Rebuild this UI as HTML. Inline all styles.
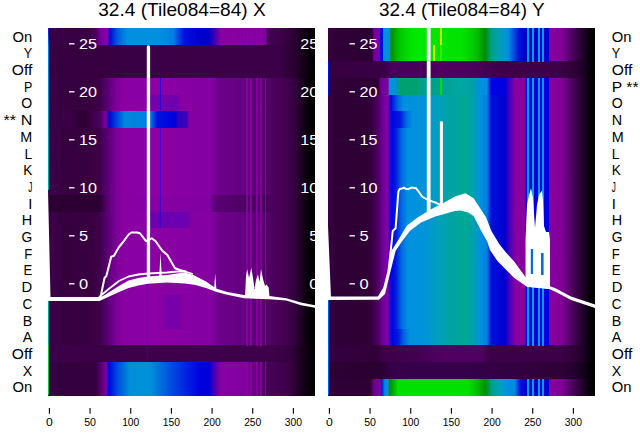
<!DOCTYPE html>
<html><head><meta charset="utf-8"><style>
html,body{margin:0;padding:0;background:#fff;}
body{width:640px;height:440px;overflow:hidden;position:relative;}
svg{position:absolute;left:0;top:0;}
</style></head><body>
<svg width="640" height="440" viewBox="0 0 640 440" shape-rendering="crispEdges">
<defs><linearGradient id="g0" gradientUnits="userSpaceOnUse" x1="48" y1="0" x2="315" y2="0"><stop offset="0.0000" stop-color="#3a0046"/><stop offset="0.1573" stop-color="#3a0046"/><stop offset="0.1798" stop-color="#4a0060"/><stop offset="0.1985" stop-color="#7a00a0"/><stop offset="0.2247" stop-color="#8800a8"/><stop offset="0.2285" stop-color="#0000d8"/><stop offset="0.2622" stop-color="#0060de"/><stop offset="0.2959" stop-color="#0090de"/><stop offset="0.4195" stop-color="#0090e0"/><stop offset="0.4682" stop-color="#0080e0"/><stop offset="0.5094" stop-color="#0010e0"/><stop offset="0.5693" stop-color="#0000d0"/><stop offset="0.6030" stop-color="#0000c8"/><stop offset="0.6292" stop-color="#5000b0"/><stop offset="0.6479" stop-color="#8a00a0"/><stop offset="0.8127" stop-color="#8000a0"/><stop offset="0.8240" stop-color="#440054"/><stop offset="0.8764" stop-color="#3c0048"/><stop offset="0.9139" stop-color="#300038"/><stop offset="0.9438" stop-color="#1c0022"/><stop offset="0.9738" stop-color="#0a000c"/><stop offset="1.0000" stop-color="#000000"/></linearGradient><linearGradient id="g1" gradientUnits="userSpaceOnUse" x1="48" y1="0" x2="315" y2="0"><stop offset="0.0000" stop-color="#3a0046"/><stop offset="0.0449" stop-color="#36003f"/><stop offset="0.1948" stop-color="#36003f"/><stop offset="0.3446" stop-color="#3a0046"/><stop offset="0.8315" stop-color="#3c0048"/><stop offset="0.8764" stop-color="#380044"/><stop offset="0.9139" stop-color="#2c0034"/><stop offset="0.9438" stop-color="#1c0022"/><stop offset="0.9738" stop-color="#0c000e"/><stop offset="1.0000" stop-color="#000000"/></linearGradient><linearGradient id="g2" gradientUnits="userSpaceOnUse" x1="48" y1="0" x2="315" y2="0"><stop offset="0.0000" stop-color="#3c0048"/><stop offset="0.0375" stop-color="#3a0046"/><stop offset="0.0524" stop-color="#36003f"/><stop offset="0.1648" stop-color="#38003f"/><stop offset="0.1948" stop-color="#40004c"/><stop offset="0.2172" stop-color="#54006c"/><stop offset="0.2397" stop-color="#6c0088"/><stop offset="0.2622" stop-color="#80009c"/><stop offset="0.2846" stop-color="#8800a2"/><stop offset="0.3820" stop-color="#8c00a4"/><stop offset="0.6142" stop-color="#8400a0"/><stop offset="0.6404" stop-color="#6c008a"/><stop offset="0.7416" stop-color="#640080"/><stop offset="0.8240" stop-color="#560068"/><stop offset="0.8390" stop-color="#4e0060"/><stop offset="0.8839" stop-color="#460052"/><stop offset="0.9213" stop-color="#360042"/><stop offset="0.9476" stop-color="#1e0024"/><stop offset="0.9700" stop-color="#0a000c"/><stop offset="0.9925" stop-color="#000000"/></linearGradient><linearGradient id="g3" gradientUnits="userSpaceOnUse" x1="48" y1="0" x2="315" y2="0"><stop offset="0.0000" stop-color="#3c0048"/><stop offset="0.0375" stop-color="#3a0046"/><stop offset="0.0524" stop-color="#36003f"/><stop offset="0.1648" stop-color="#38003f"/><stop offset="0.1948" stop-color="#40004c"/><stop offset="0.2172" stop-color="#54006c"/><stop offset="0.2397" stop-color="#6c0088"/><stop offset="0.2622" stop-color="#80009c"/><stop offset="0.2846" stop-color="#8800a2"/><stop offset="0.3820" stop-color="#8c00a4"/><stop offset="0.2996" stop-color="#8800a8"/><stop offset="0.3221" stop-color="#7400ac"/><stop offset="0.4831" stop-color="#7000ac"/><stop offset="0.4981" stop-color="#8800a0"/><stop offset="0.6142" stop-color="#8400a0"/><stop offset="0.6404" stop-color="#6c008a"/><stop offset="0.7416" stop-color="#640080"/><stop offset="0.8240" stop-color="#560068"/><stop offset="0.8390" stop-color="#4e0060"/><stop offset="0.8839" stop-color="#460052"/><stop offset="0.9213" stop-color="#360042"/><stop offset="0.9476" stop-color="#1e0024"/><stop offset="0.9700" stop-color="#0a000c"/><stop offset="0.9925" stop-color="#000000"/></linearGradient><linearGradient id="g4" gradientUnits="userSpaceOnUse" x1="48" y1="0" x2="315" y2="0"><stop offset="0.0000" stop-color="#3a0046"/><stop offset="0.0899" stop-color="#3a0046"/><stop offset="0.1049" stop-color="#2e0036"/><stop offset="0.1423" stop-color="#2e0036"/><stop offset="0.1573" stop-color="#3a0046"/><stop offset="0.1948" stop-color="#4a0060"/><stop offset="0.2172" stop-color="#8000a0"/><stop offset="0.2285" stop-color="#0000d0"/><stop offset="0.2547" stop-color="#0040e0"/><stop offset="0.2884" stop-color="#0088dd"/><stop offset="0.3820" stop-color="#0080e0"/><stop offset="0.4082" stop-color="#0010e0"/><stop offset="0.4757" stop-color="#0000e0"/><stop offset="0.4869" stop-color="#3000c0"/><stop offset="0.5206" stop-color="#4000b8"/><stop offset="0.5281" stop-color="#8400a0"/><stop offset="0.6142" stop-color="#8400a0"/><stop offset="0.6404" stop-color="#6c008a"/><stop offset="0.7416" stop-color="#640080"/><stop offset="0.8240" stop-color="#560068"/><stop offset="0.8390" stop-color="#4e0060"/><stop offset="0.8839" stop-color="#460052"/><stop offset="0.9213" stop-color="#360042"/><stop offset="0.9476" stop-color="#1e0024"/><stop offset="0.9700" stop-color="#0a000c"/><stop offset="0.9925" stop-color="#000000"/></linearGradient><linearGradient id="g5" gradientUnits="userSpaceOnUse" x1="48" y1="0" x2="315" y2="0"><stop offset="0.0000" stop-color="#2c0032"/><stop offset="0.1948" stop-color="#2c0032"/><stop offset="0.2172" stop-color="#50006a"/><stop offset="0.2397" stop-color="#6c0088"/><stop offset="0.2622" stop-color="#80009c"/><stop offset="0.2846" stop-color="#8800a2"/><stop offset="0.3820" stop-color="#8800a4"/><stop offset="0.6067" stop-color="#8000a0"/><stop offset="0.6292" stop-color="#5a0074"/><stop offset="0.7416" stop-color="#4e0064"/><stop offset="0.8240" stop-color="#4a005a"/><stop offset="0.8390" stop-color="#4e0060"/><stop offset="0.8839" stop-color="#460052"/><stop offset="0.9213" stop-color="#360042"/><stop offset="0.9476" stop-color="#1e0024"/><stop offset="0.9700" stop-color="#0a000c"/><stop offset="0.9925" stop-color="#000000"/></linearGradient><linearGradient id="g6" gradientUnits="userSpaceOnUse" x1="48" y1="0" x2="315" y2="0"><stop offset="0.0000" stop-color="#3c0048"/><stop offset="0.0375" stop-color="#3a0046"/><stop offset="0.0524" stop-color="#36003f"/><stop offset="0.1648" stop-color="#38003f"/><stop offset="0.1948" stop-color="#40004c"/><stop offset="0.2172" stop-color="#54006c"/><stop offset="0.2397" stop-color="#6c0088"/><stop offset="0.2622" stop-color="#80009c"/><stop offset="0.2846" stop-color="#8800a2"/><stop offset="0.3820" stop-color="#8c00a4"/><stop offset="0.3745" stop-color="#8800a4"/><stop offset="0.3858" stop-color="#6c00b0"/><stop offset="0.5243" stop-color="#6c00b0"/><stop offset="0.5393" stop-color="#8400a0"/><stop offset="0.6142" stop-color="#8400a0"/><stop offset="0.6404" stop-color="#6c008a"/><stop offset="0.7416" stop-color="#640080"/><stop offset="0.8240" stop-color="#560068"/><stop offset="0.8390" stop-color="#4e0060"/><stop offset="0.8839" stop-color="#460052"/><stop offset="0.9213" stop-color="#360042"/><stop offset="0.9476" stop-color="#1e0024"/><stop offset="0.9700" stop-color="#0a000c"/><stop offset="0.9925" stop-color="#000000"/></linearGradient><linearGradient id="g7" gradientUnits="userSpaceOnUse" x1="48" y1="0" x2="315" y2="0"><stop offset="0.0000" stop-color="#3c0048"/><stop offset="0.0375" stop-color="#3a0046"/><stop offset="0.0524" stop-color="#36003f"/><stop offset="0.1648" stop-color="#38003f"/><stop offset="0.1948" stop-color="#40004c"/><stop offset="0.2172" stop-color="#54006c"/><stop offset="0.2397" stop-color="#6c0088"/><stop offset="0.2622" stop-color="#80009c"/><stop offset="0.2846" stop-color="#8800a2"/><stop offset="0.3820" stop-color="#8c00a4"/><stop offset="0.4270" stop-color="#8800a4"/><stop offset="0.4419" stop-color="#7800a8"/><stop offset="0.4944" stop-color="#7800a8"/><stop offset="0.5056" stop-color="#8400a0"/><stop offset="0.6142" stop-color="#8400a0"/><stop offset="0.6404" stop-color="#6c008a"/><stop offset="0.7416" stop-color="#640080"/><stop offset="0.8240" stop-color="#560068"/><stop offset="0.8390" stop-color="#4e0060"/><stop offset="0.8839" stop-color="#460052"/><stop offset="0.9213" stop-color="#360042"/><stop offset="0.9476" stop-color="#1e0024"/><stop offset="0.9700" stop-color="#0a000c"/><stop offset="0.9925" stop-color="#000000"/></linearGradient><linearGradient id="g8" gradientUnits="userSpaceOnUse" x1="48" y1="0" x2="315" y2="0"><stop offset="0.0000" stop-color="#3c0048"/><stop offset="0.1948" stop-color="#3a0046"/><stop offset="0.3446" stop-color="#3e004a"/><stop offset="0.8315" stop-color="#3e004a"/><stop offset="0.8989" stop-color="#380044"/><stop offset="0.9438" stop-color="#1c0022"/><stop offset="0.9738" stop-color="#0c000e"/><stop offset="1.0000" stop-color="#000000"/></linearGradient><linearGradient id="g9" gradientUnits="userSpaceOnUse" x1="48" y1="0" x2="315" y2="0"><stop offset="0.0000" stop-color="#3a0046"/><stop offset="0.0375" stop-color="#34003e"/><stop offset="0.1760" stop-color="#34003e"/><stop offset="0.1948" stop-color="#500068"/><stop offset="0.2172" stop-color="#8000a0"/><stop offset="0.2266" stop-color="#0000e0"/><stop offset="0.2622" stop-color="#0050e0"/><stop offset="0.3071" stop-color="#0090d8"/><stop offset="0.3820" stop-color="#0090d8"/><stop offset="0.4757" stop-color="#0040e0"/><stop offset="0.5693" stop-color="#0000e0"/><stop offset="0.6030" stop-color="#0000d8"/><stop offset="0.6255" stop-color="#5000b0"/><stop offset="0.6479" stop-color="#8a00a0"/><stop offset="0.7378" stop-color="#8000a0"/><stop offset="0.8240" stop-color="#480058"/><stop offset="0.8989" stop-color="#3e004a"/><stop offset="0.9438" stop-color="#1c0022"/><stop offset="0.9738" stop-color="#0a000c"/><stop offset="1.0000" stop-color="#000000"/></linearGradient><linearGradient id="g10" gradientUnits="userSpaceOnUse" x1="328" y1="0" x2="595" y2="0"><stop offset="0.0000" stop-color="#36003e"/><stop offset="0.0300" stop-color="#300038"/><stop offset="0.1648" stop-color="#2c0032"/><stop offset="0.1723" stop-color="#7000a0"/><stop offset="0.1948" stop-color="#8000a0"/><stop offset="0.1966" stop-color="#0000e0"/><stop offset="0.2049" stop-color="#0010e0"/><stop offset="0.2079" stop-color="#0090e0"/><stop offset="0.2303" stop-color="#0090e0"/><stop offset="0.2360" stop-color="#008800"/><stop offset="0.2622" stop-color="#00c000"/><stop offset="0.3146" stop-color="#00e800"/><stop offset="0.5019" stop-color="#00e400"/><stop offset="0.5543" stop-color="#00c400"/><stop offset="0.5880" stop-color="#008c00"/><stop offset="0.6105" stop-color="#00a080"/><stop offset="0.6367" stop-color="#00a0b0"/><stop offset="0.6742" stop-color="#0090e0"/><stop offset="0.7154" stop-color="#0010d8"/><stop offset="0.7416" stop-color="#0000c8"/><stop offset="0.8277" stop-color="#0000d0"/><stop offset="0.8296" stop-color="#8800a0"/><stop offset="0.8764" stop-color="#800098"/><stop offset="0.9251" stop-color="#400050"/><stop offset="0.9625" stop-color="#180020"/><stop offset="0.9888" stop-color="#000000"/><stop offset="1.0000" stop-color="#000000"/></linearGradient><linearGradient id="g11" gradientUnits="userSpaceOnUse" x1="328" y1="0" x2="595" y2="0"><stop offset="0.0000" stop-color="#340040"/><stop offset="0.2135" stop-color="#3a0046"/><stop offset="0.2322" stop-color="#48005a"/><stop offset="0.3820" stop-color="#4a005a"/><stop offset="0.4195" stop-color="#500060"/><stop offset="0.5318" stop-color="#4c005c"/><stop offset="0.6442" stop-color="#3e004a"/><stop offset="0.8689" stop-color="#3c0048"/><stop offset="0.9251" stop-color="#300038"/><stop offset="0.9625" stop-color="#180020"/><stop offset="0.9888" stop-color="#000000"/><stop offset="1.0000" stop-color="#000000"/></linearGradient><linearGradient id="g12" gradientUnits="userSpaceOnUse" x1="328" y1="0" x2="595" y2="0"><stop offset="0.0000" stop-color="#36003e"/><stop offset="0.0300" stop-color="#300038"/><stop offset="0.1873" stop-color="#2e0034"/><stop offset="0.1985" stop-color="#7000a0"/><stop offset="0.2247" stop-color="#8000a0"/><stop offset="0.2303" stop-color="#0090e0"/><stop offset="0.2547" stop-color="#0090d8"/><stop offset="0.2659" stop-color="#00a070"/><stop offset="0.3371" stop-color="#00a070"/><stop offset="0.3521" stop-color="#00a090"/><stop offset="0.4195" stop-color="#00a090"/><stop offset="0.4944" stop-color="#00a8a0"/><stop offset="0.5468" stop-color="#00a0a8"/><stop offset="0.5618" stop-color="#0090e0"/><stop offset="0.5955" stop-color="#0090e0"/><stop offset="0.6105" stop-color="#0000e0"/><stop offset="0.6629" stop-color="#0000e0"/><stop offset="0.6816" stop-color="#5000b8"/><stop offset="0.7004" stop-color="#8800a0"/><stop offset="0.7378" stop-color="#8800a0"/><stop offset="0.7416" stop-color="#0000e0"/><stop offset="0.8277" stop-color="#0000e0"/><stop offset="0.8296" stop-color="#8800a0"/><stop offset="0.8764" stop-color="#800098"/><stop offset="0.9251" stop-color="#400050"/><stop offset="0.9625" stop-color="#180020"/><stop offset="0.9888" stop-color="#000000"/><stop offset="1.0000" stop-color="#000000"/></linearGradient><linearGradient id="g13" gradientUnits="userSpaceOnUse" x1="328" y1="0" x2="595" y2="0"><stop offset="0.0000" stop-color="#3a0046"/><stop offset="0.0225" stop-color="#300038"/><stop offset="0.1423" stop-color="#2e0034"/><stop offset="0.1648" stop-color="#36003f"/><stop offset="0.1873" stop-color="#4e0066"/><stop offset="0.2060" stop-color="#70009c"/><stop offset="0.2247" stop-color="#8800a8"/><stop offset="0.2303" stop-color="#3000c8"/><stop offset="0.2360" stop-color="#0000e0"/><stop offset="0.2397" stop-color="#0018e0"/><stop offset="0.2622" stop-color="#0068e0"/><stop offset="0.2846" stop-color="#0090e0"/><stop offset="0.3633" stop-color="#0094d8"/><stop offset="0.4195" stop-color="#00a0b8"/><stop offset="0.4757" stop-color="#00a49c"/><stop offset="0.5169" stop-color="#00a894"/><stop offset="0.5468" stop-color="#00a0b0"/><stop offset="0.5693" stop-color="#0090e0"/><stop offset="0.5955" stop-color="#0080e0"/><stop offset="0.6105" stop-color="#0010d8"/><stop offset="0.6629" stop-color="#0000d0"/><stop offset="0.6816" stop-color="#5000b8"/><stop offset="0.7041" stop-color="#8800a0"/><stop offset="0.7378" stop-color="#8800a0"/><stop offset="0.7416" stop-color="#0000e0"/><stop offset="0.8277" stop-color="#0000e0"/><stop offset="0.8296" stop-color="#8800a0"/><stop offset="0.8764" stop-color="#800098"/><stop offset="0.9251" stop-color="#400050"/><stop offset="0.9625" stop-color="#180020"/><stop offset="0.9888" stop-color="#000000"/><stop offset="1.0000" stop-color="#000000"/></linearGradient><linearGradient id="g14" gradientUnits="userSpaceOnUse" x1="328" y1="0" x2="595" y2="0"><stop offset="0.0000" stop-color="#3a0046"/><stop offset="0.0225" stop-color="#300038"/><stop offset="0.1423" stop-color="#2e0034"/><stop offset="0.1648" stop-color="#36003f"/><stop offset="0.1873" stop-color="#4e0066"/><stop offset="0.2060" stop-color="#70009c"/><stop offset="0.2247" stop-color="#8800a8"/><stop offset="0.2303" stop-color="#3000c8"/><stop offset="0.2360" stop-color="#0000e0"/><stop offset="0.2697" stop-color="#0018e0"/><stop offset="0.2921" stop-color="#0068e0"/><stop offset="0.3146" stop-color="#0090e0"/><stop offset="0.3633" stop-color="#0094d8"/><stop offset="0.4195" stop-color="#00a0b8"/><stop offset="0.4757" stop-color="#00a49c"/><stop offset="0.5169" stop-color="#00a894"/><stop offset="0.5468" stop-color="#00a0b0"/><stop offset="0.5693" stop-color="#0090e0"/><stop offset="0.5955" stop-color="#0080e0"/><stop offset="0.6105" stop-color="#0010d8"/><stop offset="0.6629" stop-color="#0000d0"/><stop offset="0.6816" stop-color="#5000b8"/><stop offset="0.7041" stop-color="#8800a0"/><stop offset="0.7378" stop-color="#8800a0"/><stop offset="0.7416" stop-color="#0000e0"/><stop offset="0.8277" stop-color="#0000e0"/><stop offset="0.8296" stop-color="#8800a0"/><stop offset="0.8764" stop-color="#800098"/><stop offset="0.9251" stop-color="#400050"/><stop offset="0.9625" stop-color="#180020"/><stop offset="0.9888" stop-color="#000000"/><stop offset="1.0000" stop-color="#000000"/></linearGradient><linearGradient id="g15" gradientUnits="userSpaceOnUse" x1="328" y1="0" x2="595" y2="0"><stop offset="0.0000" stop-color="#3a0046"/><stop offset="0.0225" stop-color="#300038"/><stop offset="0.1423" stop-color="#2e0034"/><stop offset="0.1648" stop-color="#36003f"/><stop offset="0.1873" stop-color="#4e0066"/><stop offset="0.2060" stop-color="#70009c"/><stop offset="0.2247" stop-color="#8800a8"/><stop offset="0.2303" stop-color="#3000c8"/><stop offset="0.2360" stop-color="#0000e0"/><stop offset="0.2528" stop-color="#0018e0"/><stop offset="0.2753" stop-color="#0068e0"/><stop offset="0.2978" stop-color="#0090e0"/><stop offset="0.3633" stop-color="#0094d8"/><stop offset="0.4195" stop-color="#00a0b8"/><stop offset="0.4757" stop-color="#00a49c"/><stop offset="0.5169" stop-color="#00a894"/><stop offset="0.5468" stop-color="#00a0b0"/><stop offset="0.5693" stop-color="#0090e0"/><stop offset="0.5955" stop-color="#0080e0"/><stop offset="0.6105" stop-color="#0010d8"/><stop offset="0.6629" stop-color="#0000d0"/><stop offset="0.6816" stop-color="#5000b8"/><stop offset="0.7041" stop-color="#8800a0"/><stop offset="0.7378" stop-color="#8800a0"/><stop offset="0.7416" stop-color="#0000e0"/><stop offset="0.8277" stop-color="#0000e0"/><stop offset="0.8296" stop-color="#8800a0"/><stop offset="0.8764" stop-color="#800098"/><stop offset="0.9251" stop-color="#400050"/><stop offset="0.9625" stop-color="#180020"/><stop offset="0.9888" stop-color="#000000"/><stop offset="1.0000" stop-color="#000000"/></linearGradient><linearGradient id="g16" gradientUnits="userSpaceOnUse" x1="328" y1="0" x2="595" y2="0"><stop offset="0.0000" stop-color="#3a0046"/><stop offset="0.0225" stop-color="#300038"/><stop offset="0.1423" stop-color="#2e0034"/><stop offset="0.1648" stop-color="#36003f"/><stop offset="0.1873" stop-color="#4e0066"/><stop offset="0.2060" stop-color="#70009c"/><stop offset="0.2247" stop-color="#8800a8"/><stop offset="0.2303" stop-color="#3000c8"/><stop offset="0.2360" stop-color="#0000e0"/><stop offset="0.2622" stop-color="#0018e0"/><stop offset="0.2846" stop-color="#0068e0"/><stop offset="0.3071" stop-color="#0090e0"/><stop offset="0.3633" stop-color="#0094d8"/><stop offset="0.4195" stop-color="#00a0b8"/><stop offset="0.4757" stop-color="#00a49c"/><stop offset="0.5169" stop-color="#00a894"/><stop offset="0.5468" stop-color="#00a0b0"/><stop offset="0.5693" stop-color="#0090e0"/><stop offset="0.5955" stop-color="#0080e0"/><stop offset="0.6105" stop-color="#0010d8"/><stop offset="0.6629" stop-color="#0000d0"/><stop offset="0.6816" stop-color="#5000b8"/><stop offset="0.7041" stop-color="#8800a0"/><stop offset="0.7378" stop-color="#8800a0"/><stop offset="0.7416" stop-color="#0000e0"/><stop offset="0.8277" stop-color="#0000e0"/><stop offset="0.8296" stop-color="#8800a0"/><stop offset="0.8764" stop-color="#800098"/><stop offset="0.9251" stop-color="#400050"/><stop offset="0.9625" stop-color="#180020"/><stop offset="0.9888" stop-color="#000000"/><stop offset="1.0000" stop-color="#000000"/></linearGradient><linearGradient id="g17" gradientUnits="userSpaceOnUse" x1="328" y1="0" x2="595" y2="0"><stop offset="0.0000" stop-color="#340040"/><stop offset="0.1873" stop-color="#320038"/><stop offset="0.2022" stop-color="#3c0048"/><stop offset="0.3446" stop-color="#440052"/><stop offset="0.4195" stop-color="#500060"/><stop offset="0.5693" stop-color="#500060"/><stop offset="0.6067" stop-color="#3c0048"/><stop offset="0.8689" stop-color="#3c0048"/><stop offset="0.9251" stop-color="#300038"/><stop offset="0.9625" stop-color="#180020"/><stop offset="0.9888" stop-color="#000000"/><stop offset="1.0000" stop-color="#000000"/></linearGradient><linearGradient id="g18" gradientUnits="userSpaceOnUse" x1="328" y1="0" x2="595" y2="0"><stop offset="0.0000" stop-color="#2e0034"/><stop offset="0.1948" stop-color="#2a0030"/><stop offset="0.2397" stop-color="#36004a"/><stop offset="0.5318" stop-color="#36004a"/><stop offset="0.8689" stop-color="#300038"/><stop offset="0.9251" stop-color="#240030"/><stop offset="0.9625" stop-color="#100018"/><stop offset="0.9888" stop-color="#000000"/><stop offset="1.0000" stop-color="#000000"/></linearGradient><linearGradient id="g19" gradientUnits="userSpaceOnUse" x1="328" y1="0" x2="595" y2="0"><stop offset="0.0000" stop-color="#36003e"/><stop offset="0.0300" stop-color="#300038"/><stop offset="0.1573" stop-color="#2e0034"/><stop offset="0.1723" stop-color="#6a0090"/><stop offset="0.1948" stop-color="#8000a0"/><stop offset="0.2022" stop-color="#0020e0"/><stop offset="0.2135" stop-color="#0090e0"/><stop offset="0.2247" stop-color="#0090e0"/><stop offset="0.2303" stop-color="#008800"/><stop offset="0.2622" stop-color="#00e000"/><stop offset="0.5243" stop-color="#00e000"/><stop offset="0.5581" stop-color="#00c000"/><stop offset="0.5880" stop-color="#009000"/><stop offset="0.6142" stop-color="#00a090"/><stop offset="0.6442" stop-color="#00a0c0"/><stop offset="0.6704" stop-color="#0090e0"/><stop offset="0.7004" stop-color="#0088e0"/><stop offset="0.7191" stop-color="#0010e0"/><stop offset="0.7453" stop-color="#0000d0"/><stop offset="0.8277" stop-color="#0000d0"/><stop offset="0.8296" stop-color="#8800a0"/><stop offset="0.8764" stop-color="#800098"/><stop offset="0.9251" stop-color="#400050"/><stop offset="0.9625" stop-color="#180020"/><stop offset="0.9888" stop-color="#000000"/><stop offset="1.0000" stop-color="#000000"/></linearGradient><linearGradient id="edgeL" x1="0" y1="0" x2="0" y2="1"><stop offset="0" stop-color="#2010d0"/><stop offset="0.12" stop-color="#0080e0"/><stop offset="1" stop-color="#00b0a0"/></linearGradient></defs>
<g><rect x="48" y="28.00" width="267" height="17.00" fill="url(#g0)"/><rect x="48" y="44.70" width="267" height="17.00" fill="url(#g1)"/><rect x="48" y="61.39" width="267" height="17.00" fill="url(#g1)"/><rect x="48" y="78.09" width="267" height="17.00" fill="url(#g2)"/><rect x="48" y="94.78" width="267" height="17.00" fill="url(#g3)"/><rect x="48" y="111.48" width="267" height="17.00" fill="url(#g4)"/><rect x="48" y="128.17" width="267" height="17.00" fill="url(#g2)"/><rect x="48" y="144.87" width="267" height="17.00" fill="url(#g2)"/><rect x="48" y="161.56" width="267" height="17.00" fill="url(#g2)"/><rect x="48" y="178.26" width="267" height="17.00" fill="url(#g2)"/><rect x="48" y="194.95" width="267" height="17.00" fill="url(#g5)"/><rect x="48" y="211.65" width="267" height="17.00" fill="url(#g6)"/><rect x="48" y="228.35" width="267" height="17.00" fill="url(#g2)"/><rect x="48" y="245.04" width="267" height="17.00" fill="url(#g2)"/><rect x="48" y="261.74" width="267" height="17.00" fill="url(#g2)"/><rect x="48" y="278.43" width="267" height="17.00" fill="url(#g2)"/><rect x="48" y="295.13" width="267" height="17.00" fill="url(#g7)"/><rect x="48" y="311.82" width="267" height="17.00" fill="url(#g7)"/><rect x="48" y="328.52" width="267" height="17.00" fill="url(#g2)"/><rect x="48" y="345.21" width="267" height="17.00" fill="url(#g8)"/><rect x="48" y="361.91" width="267" height="17.00" fill="url(#g9)"/><rect x="48" y="378.60" width="267" height="17.00" fill="url(#g9)"/><rect x="328" y="28.00" width="267" height="17.00" fill="url(#g10)"/><rect x="328" y="44.70" width="267" height="17.00" fill="url(#g10)"/><rect x="328" y="61.39" width="267" height="17.00" fill="url(#g11)"/><rect x="328" y="78.09" width="267" height="17.00" fill="url(#g12)"/><rect x="328" y="94.78" width="267" height="17.00" fill="url(#g13)"/><rect x="328" y="111.48" width="267" height="17.00" fill="url(#g14)"/><rect x="328" y="128.17" width="267" height="17.00" fill="url(#g15)"/><rect x="328" y="144.87" width="267" height="17.00" fill="url(#g15)"/><rect x="328" y="161.56" width="267" height="17.00" fill="url(#g15)"/><rect x="328" y="178.26" width="267" height="17.00" fill="url(#g15)"/><rect x="328" y="194.95" width="267" height="17.00" fill="url(#g15)"/><rect x="328" y="211.65" width="267" height="17.00" fill="url(#g15)"/><rect x="328" y="228.35" width="267" height="17.00" fill="url(#g15)"/><rect x="328" y="245.04" width="267" height="17.00" fill="url(#g15)"/><rect x="328" y="261.74" width="267" height="17.00" fill="url(#g15)"/><rect x="328" y="278.43" width="267" height="17.00" fill="url(#g15)"/><rect x="328" y="295.13" width="267" height="17.00" fill="url(#g15)"/><rect x="328" y="311.82" width="267" height="17.00" fill="url(#g15)"/><rect x="328" y="328.52" width="267" height="17.00" fill="url(#g16)"/><rect x="328" y="345.21" width="267" height="17.00" fill="url(#g17)"/><rect x="328" y="361.91" width="267" height="17.00" fill="url(#g18)"/><rect x="328" y="378.60" width="267" height="17.00" fill="url(#g19)"/></g>
<g><rect x="246.3" y="28.00" width="1.7" height="17.00" fill="#8c00a6" opacity="0.85"/><rect x="250.3" y="28.00" width="1.7" height="17.00" fill="#8c00a6" opacity="0.85"/><rect x="255.9" y="28.00" width="1.7" height="17.00" fill="#8c00a6" opacity="0.85"/><rect x="260" y="28.00" width="1.7" height="17.00" fill="#8c00a6" opacity="0.85"/><rect x="264.6" y="28.00" width="1.7" height="17.00" fill="#8c00a6" opacity="0.85"/><rect x="246.3" y="78.09" width="1.7" height="17.00" fill="#8c00a6" opacity="0.85"/><rect x="250.3" y="78.09" width="1.7" height="17.00" fill="#8c00a6" opacity="0.85"/><rect x="255.9" y="78.09" width="1.7" height="17.00" fill="#8c00a6" opacity="0.85"/><rect x="260" y="78.09" width="1.7" height="17.00" fill="#8c00a6" opacity="0.85"/><rect x="264.6" y="78.09" width="1.7" height="17.00" fill="#8c00a6" opacity="0.85"/><rect x="246.3" y="94.78" width="1.7" height="17.00" fill="#8c00a6" opacity="0.85"/><rect x="250.3" y="94.78" width="1.7" height="17.00" fill="#8c00a6" opacity="0.85"/><rect x="255.9" y="94.78" width="1.7" height="17.00" fill="#8c00a6" opacity="0.85"/><rect x="260" y="94.78" width="1.7" height="17.00" fill="#8c00a6" opacity="0.85"/><rect x="264.6" y="94.78" width="1.7" height="17.00" fill="#8c00a6" opacity="0.85"/><rect x="246.3" y="111.48" width="1.7" height="17.00" fill="#8c00a6" opacity="0.85"/><rect x="250.3" y="111.48" width="1.7" height="17.00" fill="#8c00a6" opacity="0.85"/><rect x="255.9" y="111.48" width="1.7" height="17.00" fill="#8c00a6" opacity="0.85"/><rect x="260" y="111.48" width="1.7" height="17.00" fill="#8c00a6" opacity="0.85"/><rect x="264.6" y="111.48" width="1.7" height="17.00" fill="#8c00a6" opacity="0.85"/><rect x="246.3" y="128.17" width="1.7" height="17.00" fill="#8c00a6" opacity="0.85"/><rect x="250.3" y="128.17" width="1.7" height="17.00" fill="#8c00a6" opacity="0.85"/><rect x="255.9" y="128.17" width="1.7" height="17.00" fill="#8c00a6" opacity="0.85"/><rect x="260" y="128.17" width="1.7" height="17.00" fill="#8c00a6" opacity="0.85"/><rect x="264.6" y="128.17" width="1.7" height="17.00" fill="#8c00a6" opacity="0.85"/><rect x="246.3" y="144.87" width="1.7" height="17.00" fill="#8c00a6" opacity="0.85"/><rect x="250.3" y="144.87" width="1.7" height="17.00" fill="#8c00a6" opacity="0.85"/><rect x="255.9" y="144.87" width="1.7" height="17.00" fill="#8c00a6" opacity="0.85"/><rect x="260" y="144.87" width="1.7" height="17.00" fill="#8c00a6" opacity="0.85"/><rect x="264.6" y="144.87" width="1.7" height="17.00" fill="#8c00a6" opacity="0.85"/><rect x="246.3" y="161.56" width="1.7" height="17.00" fill="#8c00a6" opacity="0.85"/><rect x="250.3" y="161.56" width="1.7" height="17.00" fill="#8c00a6" opacity="0.85"/><rect x="255.9" y="161.56" width="1.7" height="17.00" fill="#8c00a6" opacity="0.85"/><rect x="260" y="161.56" width="1.7" height="17.00" fill="#8c00a6" opacity="0.85"/><rect x="264.6" y="161.56" width="1.7" height="17.00" fill="#8c00a6" opacity="0.85"/><rect x="246.3" y="178.26" width="1.7" height="17.00" fill="#8c00a6" opacity="0.85"/><rect x="250.3" y="178.26" width="1.7" height="17.00" fill="#8c00a6" opacity="0.85"/><rect x="255.9" y="178.26" width="1.7" height="17.00" fill="#8c00a6" opacity="0.85"/><rect x="260" y="178.26" width="1.7" height="17.00" fill="#8c00a6" opacity="0.85"/><rect x="264.6" y="178.26" width="1.7" height="17.00" fill="#8c00a6" opacity="0.85"/><rect x="246.3" y="194.95" width="1.7" height="17.00" fill="#8c00a6" opacity="0.85"/><rect x="250.3" y="194.95" width="1.7" height="17.00" fill="#8c00a6" opacity="0.85"/><rect x="255.9" y="194.95" width="1.7" height="17.00" fill="#8c00a6" opacity="0.85"/><rect x="260" y="194.95" width="1.7" height="17.00" fill="#8c00a6" opacity="0.85"/><rect x="264.6" y="194.95" width="1.7" height="17.00" fill="#8c00a6" opacity="0.85"/><rect x="246.3" y="211.65" width="1.7" height="17.00" fill="#8c00a6" opacity="0.85"/><rect x="250.3" y="211.65" width="1.7" height="17.00" fill="#8c00a6" opacity="0.85"/><rect x="255.9" y="211.65" width="1.7" height="17.00" fill="#8c00a6" opacity="0.85"/><rect x="260" y="211.65" width="1.7" height="17.00" fill="#8c00a6" opacity="0.85"/><rect x="264.6" y="211.65" width="1.7" height="17.00" fill="#8c00a6" opacity="0.85"/><rect x="246.3" y="228.35" width="1.7" height="17.00" fill="#8c00a6" opacity="0.85"/><rect x="250.3" y="228.35" width="1.7" height="17.00" fill="#8c00a6" opacity="0.85"/><rect x="255.9" y="228.35" width="1.7" height="17.00" fill="#8c00a6" opacity="0.85"/><rect x="260" y="228.35" width="1.7" height="17.00" fill="#8c00a6" opacity="0.85"/><rect x="264.6" y="228.35" width="1.7" height="17.00" fill="#8c00a6" opacity="0.85"/><rect x="246.3" y="245.04" width="1.7" height="17.00" fill="#8c00a6" opacity="0.85"/><rect x="250.3" y="245.04" width="1.7" height="17.00" fill="#8c00a6" opacity="0.85"/><rect x="255.9" y="245.04" width="1.7" height="17.00" fill="#8c00a6" opacity="0.85"/><rect x="260" y="245.04" width="1.7" height="17.00" fill="#8c00a6" opacity="0.85"/><rect x="264.6" y="245.04" width="1.7" height="17.00" fill="#8c00a6" opacity="0.85"/><rect x="246.3" y="261.74" width="1.7" height="17.00" fill="#8c00a6" opacity="0.85"/><rect x="250.3" y="261.74" width="1.7" height="17.00" fill="#8c00a6" opacity="0.85"/><rect x="255.9" y="261.74" width="1.7" height="17.00" fill="#8c00a6" opacity="0.85"/><rect x="260" y="261.74" width="1.7" height="17.00" fill="#8c00a6" opacity="0.85"/><rect x="264.6" y="261.74" width="1.7" height="17.00" fill="#8c00a6" opacity="0.85"/><rect x="246.3" y="278.43" width="1.7" height="17.00" fill="#8c00a6" opacity="0.85"/><rect x="250.3" y="278.43" width="1.7" height="17.00" fill="#8c00a6" opacity="0.85"/><rect x="255.9" y="278.43" width="1.7" height="17.00" fill="#8c00a6" opacity="0.85"/><rect x="260" y="278.43" width="1.7" height="17.00" fill="#8c00a6" opacity="0.85"/><rect x="264.6" y="278.43" width="1.7" height="17.00" fill="#8c00a6" opacity="0.85"/><rect x="246.3" y="295.13" width="1.7" height="17.00" fill="#8c00a6" opacity="0.85"/><rect x="250.3" y="295.13" width="1.7" height="17.00" fill="#8c00a6" opacity="0.85"/><rect x="255.9" y="295.13" width="1.7" height="17.00" fill="#8c00a6" opacity="0.85"/><rect x="260" y="295.13" width="1.7" height="17.00" fill="#8c00a6" opacity="0.85"/><rect x="264.6" y="295.13" width="1.7" height="17.00" fill="#8c00a6" opacity="0.85"/><rect x="246.3" y="311.82" width="1.7" height="17.00" fill="#8c00a6" opacity="0.85"/><rect x="250.3" y="311.82" width="1.7" height="17.00" fill="#8c00a6" opacity="0.85"/><rect x="255.9" y="311.82" width="1.7" height="17.00" fill="#8c00a6" opacity="0.85"/><rect x="260" y="311.82" width="1.7" height="17.00" fill="#8c00a6" opacity="0.85"/><rect x="264.6" y="311.82" width="1.7" height="17.00" fill="#8c00a6" opacity="0.85"/><rect x="246.3" y="328.52" width="1.7" height="17.00" fill="#8c00a6" opacity="0.85"/><rect x="250.3" y="328.52" width="1.7" height="17.00" fill="#8c00a6" opacity="0.85"/><rect x="255.9" y="328.52" width="1.7" height="17.00" fill="#8c00a6" opacity="0.85"/><rect x="260" y="328.52" width="1.7" height="17.00" fill="#8c00a6" opacity="0.85"/><rect x="264.6" y="328.52" width="1.7" height="17.00" fill="#8c00a6" opacity="0.85"/><rect x="246.3" y="361.91" width="1.7" height="17.00" fill="#8c00a6" opacity="0.85"/><rect x="250.3" y="361.91" width="1.7" height="17.00" fill="#8c00a6" opacity="0.85"/><rect x="255.9" y="361.91" width="1.7" height="17.00" fill="#8c00a6" opacity="0.85"/><rect x="260" y="361.91" width="1.7" height="17.00" fill="#8c00a6" opacity="0.85"/><rect x="264.6" y="361.91" width="1.7" height="17.00" fill="#8c00a6" opacity="0.85"/><rect x="246.3" y="378.60" width="1.7" height="17.00" fill="#8c00a6" opacity="0.85"/><rect x="250.3" y="378.60" width="1.7" height="17.00" fill="#8c00a6" opacity="0.85"/><rect x="255.9" y="378.60" width="1.7" height="17.00" fill="#8c00a6" opacity="0.85"/><rect x="260" y="378.60" width="1.7" height="17.00" fill="#8c00a6" opacity="0.85"/><rect x="264.6" y="378.60" width="1.7" height="17.00" fill="#8c00a6" opacity="0.85"/><rect x="527" y="28.00" width="1.5" height="17.00" fill="#00a0e0"/><rect x="532" y="28.00" width="1.5" height="17.00" fill="#00a0e0"/><rect x="538" y="28.00" width="1.5" height="17.00" fill="#00a0e0"/><rect x="542" y="28.00" width="1.5" height="17.00" fill="#00a0e0"/><rect x="527" y="44.70" width="1.5" height="17.00" fill="#00a0e0"/><rect x="532" y="44.70" width="1.5" height="17.00" fill="#00a0e0"/><rect x="538" y="44.70" width="1.5" height="17.00" fill="#00a0e0"/><rect x="542" y="44.70" width="1.5" height="17.00" fill="#00a0e0"/><rect x="527" y="78.09" width="1.5" height="17.00" fill="#00a0e0"/><rect x="532" y="78.09" width="1.5" height="17.00" fill="#00a0e0"/><rect x="538" y="78.09" width="1.5" height="17.00" fill="#00a0e0"/><rect x="542" y="78.09" width="1.5" height="17.00" fill="#00a0e0"/><rect x="527" y="94.78" width="1.5" height="17.00" fill="#00a0e0"/><rect x="532" y="94.78" width="1.5" height="17.00" fill="#00a0e0"/><rect x="538" y="94.78" width="1.5" height="17.00" fill="#00a0e0"/><rect x="542" y="94.78" width="1.5" height="17.00" fill="#00a0e0"/><rect x="527" y="111.48" width="1.5" height="17.00" fill="#00a0e0"/><rect x="532" y="111.48" width="1.5" height="17.00" fill="#00a0e0"/><rect x="538" y="111.48" width="1.5" height="17.00" fill="#00a0e0"/><rect x="542" y="111.48" width="1.5" height="17.00" fill="#00a0e0"/><rect x="527" y="128.17" width="1.5" height="17.00" fill="#00a0e0"/><rect x="532" y="128.17" width="1.5" height="17.00" fill="#00a0e0"/><rect x="538" y="128.17" width="1.5" height="17.00" fill="#00a0e0"/><rect x="542" y="128.17" width="1.5" height="17.00" fill="#00a0e0"/><rect x="527" y="144.87" width="1.5" height="17.00" fill="#00a0e0"/><rect x="532" y="144.87" width="1.5" height="17.00" fill="#00a0e0"/><rect x="538" y="144.87" width="1.5" height="17.00" fill="#00a0e0"/><rect x="542" y="144.87" width="1.5" height="17.00" fill="#00a0e0"/><rect x="527" y="161.56" width="1.5" height="17.00" fill="#00a0e0"/><rect x="532" y="161.56" width="1.5" height="17.00" fill="#00a0e0"/><rect x="538" y="161.56" width="1.5" height="17.00" fill="#00a0e0"/><rect x="542" y="161.56" width="1.5" height="17.00" fill="#00a0e0"/><rect x="527" y="178.26" width="1.5" height="17.00" fill="#00a0e0"/><rect x="532" y="178.26" width="1.5" height="17.00" fill="#00a0e0"/><rect x="538" y="178.26" width="1.5" height="17.00" fill="#00a0e0"/><rect x="542" y="178.26" width="1.5" height="17.00" fill="#00a0e0"/><rect x="527" y="194.95" width="1.5" height="17.00" fill="#00a0e0"/><rect x="532" y="194.95" width="1.5" height="17.00" fill="#00a0e0"/><rect x="538" y="194.95" width="1.5" height="17.00" fill="#00a0e0"/><rect x="542" y="194.95" width="1.5" height="17.00" fill="#00a0e0"/><rect x="527" y="211.65" width="1.5" height="17.00" fill="#00a0e0"/><rect x="532" y="211.65" width="1.5" height="17.00" fill="#00a0e0"/><rect x="538" y="211.65" width="1.5" height="17.00" fill="#00a0e0"/><rect x="542" y="211.65" width="1.5" height="17.00" fill="#00a0e0"/><rect x="527" y="228.35" width="1.5" height="17.00" fill="#00a0e0"/><rect x="532" y="228.35" width="1.5" height="17.00" fill="#00a0e0"/><rect x="538" y="228.35" width="1.5" height="17.00" fill="#00a0e0"/><rect x="542" y="228.35" width="1.5" height="17.00" fill="#00a0e0"/><rect x="527" y="245.04" width="1.5" height="17.00" fill="#00a0e0"/><rect x="532" y="245.04" width="1.5" height="17.00" fill="#00a0e0"/><rect x="538" y="245.04" width="1.5" height="17.00" fill="#00a0e0"/><rect x="542" y="245.04" width="1.5" height="17.00" fill="#00a0e0"/><rect x="527" y="261.74" width="1.5" height="17.00" fill="#00a0e0"/><rect x="532" y="261.74" width="1.5" height="17.00" fill="#00a0e0"/><rect x="538" y="261.74" width="1.5" height="17.00" fill="#00a0e0"/><rect x="542" y="261.74" width="1.5" height="17.00" fill="#00a0e0"/><rect x="527" y="278.43" width="1.5" height="17.00" fill="#00a0e0"/><rect x="532" y="278.43" width="1.5" height="17.00" fill="#00a0e0"/><rect x="538" y="278.43" width="1.5" height="17.00" fill="#00a0e0"/><rect x="542" y="278.43" width="1.5" height="17.00" fill="#00a0e0"/><rect x="527" y="295.13" width="1.5" height="17.00" fill="#00a0e0"/><rect x="532" y="295.13" width="1.5" height="17.00" fill="#00a0e0"/><rect x="538" y="295.13" width="1.5" height="17.00" fill="#00a0e0"/><rect x="542" y="295.13" width="1.5" height="17.00" fill="#00a0e0"/><rect x="527" y="311.82" width="1.5" height="17.00" fill="#00a0e0"/><rect x="532" y="311.82" width="1.5" height="17.00" fill="#00a0e0"/><rect x="538" y="311.82" width="1.5" height="17.00" fill="#00a0e0"/><rect x="542" y="311.82" width="1.5" height="17.00" fill="#00a0e0"/><rect x="527" y="328.52" width="1.5" height="17.00" fill="#00a0e0"/><rect x="532" y="328.52" width="1.5" height="17.00" fill="#00a0e0"/><rect x="538" y="328.52" width="1.5" height="17.00" fill="#00a0e0"/><rect x="542" y="328.52" width="1.5" height="17.00" fill="#00a0e0"/><rect x="527" y="378.60" width="1.5" height="17.00" fill="#00a0e0"/><rect x="532" y="378.60" width="1.5" height="17.00" fill="#00a0e0"/><rect x="538" y="378.60" width="1.5" height="17.00" fill="#00a0e0"/><rect x="542" y="378.60" width="1.5" height="17.00" fill="#00a0e0"/><rect x="48" y="28" width="1.1" height="162" fill="url(#edgeL)"/><rect x="48" y="300" width="1.1" height="95" fill="#00a890"/><rect x="48" y="345" width="1.1" height="50" fill="#10c040"/><rect x="328" y="61" width="1.1" height="34" fill="#0010e0"/><rect x="328" y="300" width="1.1" height="95" fill="#0060e0"/><rect x="159.6" y="78.09" width="1.6" height="33.39" fill="#3000d0"/><rect x="159.6" y="128.17" width="1.6" height="100.17" fill="#3000d0" opacity="0.7"/><rect x="146.6" y="283" width="1.2" height="79" fill="#4000b0" opacity="0.6"/><rect x="440.2" y="28" width="1.4" height="16.70" fill="#c8ff00"/><rect x="440.2" y="44.70" width="1.4" height="16.70" fill="#30f000"/><rect x="433.1" y="44.8" width="1.6" height="16.5" fill="#e0f000"/><rect x="440.3" y="78.09" width="1.2" height="16.70" fill="#00e000"/></g>
<g shape-rendering="auto"><polygon points="48.0,297.0 99.0,297.0 103.0,296.0 109.3,292.0 119.0,286.0 128.6,280.5 138.3,278.0 148.0,276.5 167.0,275.0 177.0,273.5 185.0,272.5 193.4,275.0 206.0,281.4 216.6,288.8 227.2,292.0 244.0,295.0 269.4,296.1 286.3,298.2 301.0,302.5 315.0,305.2 315.0,307.7 301.0,305.2 286.3,300.4 269.4,299.3 244.0,298.2 227.2,294.7 216.6,292.0 206.0,288.0 195.5,285.0 185.0,283.5 167.0,282.5 148.0,283.7 138.3,285.5 128.6,288.0 119.0,292.0 109.3,296.5 99.6,301.0 48.0,301.0" fill="#ffffff"/><polygon points="48,190 50.5,298 48,298" fill="#fff"/><polyline points="99.0,297.5 101.6,295.0 109.3,288.5 119.0,281.0 128.6,276.5 138.3,274.5 148.0,273.5 167.0,272.5 177.0,271.5 185.0,271.5 193.0,274.0" fill="none" stroke="#ffffff" stroke-width="1.8" stroke-linejoin="round"/><polyline points="48.0,298.5 100.0,298.0 101.0,295.0 104.5,278.0 106.4,276.0 111.2,256.7 114.0,255.7 119.0,247.0 123.8,241.2 128.6,234.5 131.5,232.5 137.3,232.5 140.2,233.5 146.0,241.2 151.8,238.3 155.6,241.2 162.4,250.9 167.2,254.7 175.0,268.3 180.7,270.2 186.5,271.7" fill="none" stroke="#ffffff" stroke-width="2" stroke-linejoin="round"/><rect x="146.8" y="45.2" width="3.3" height="236" rx="1.6" fill="#ffffff"/><polygon points="159,281 160.5,252.8 162,281" fill="#ffffff"/><polygon points="214,290 215.2,273.6 216.4,290" fill="#ffffff"/><polygon points="245.0,297.0 246.0,276.0 247.2,269.2 249.0,278.0 251.3,267.7 253.0,278.0 254.5,289.0 256.0,280.0 258.0,274.3 259.5,282.0 261.0,269.2 263.0,279.0 265.0,286.0 266.5,284.5 268.7,287.6 269.5,297.0" fill="#ffffff"/><polygon points="328.0,296.5 378.5,296.5 384.2,289.0 388.0,276.0 391.3,251.0 398.4,239.7 407.0,225.5 418.3,217.0 432.5,208.4 443.9,202.7 455.0,196.4 465.5,193.2 473.6,198.2 479.0,206.4 486.0,217.3 491.4,231.0 499.6,244.6 506.0,252.5 514.0,261.3 526.0,277.7 527.3,279.0 549.0,284.0 550.4,286.5 555.0,288.0 571.0,296.5 595.0,304.5 595.0,308.0 571.0,300.0 555.0,291.5 549.0,289.0 527.3,287.0 514.0,277.7 497.6,261.3 490.0,250.0 487.3,241.8 480.5,229.6 473.6,216.0 468.0,212.5 460.0,210.5 455.0,211.0 449.5,212.6 435.3,216.5 421.0,222.6 409.8,231.0 401.2,242.5 395.6,251.0 389.9,273.8 385.0,294.0 379.0,299.8 328.0,300.0" fill="#ffffff"/><polygon points="328,226 331,298 328,298" fill="#fff"/><polyline points="378.5,297.5 384.2,288.0 388.5,271.0 391.3,245.3 392.7,231.0 395.6,228.3 398.4,191.4 399.7,189.0 402.0,188.5 404.0,187.6 406.0,189.0 408.5,189.0 411.5,187.6 416.0,188.2 419.0,192.0 422.0,196.5 427.8,200.0 435.0,202.4 442.6,206.0 450.0,209.0" fill="none" stroke="#ffffff" stroke-width="2" stroke-linejoin="round"/><rect x="426.8" y="28" width="3.8" height="190" fill="#ffffff"/><rect x="439.9" y="121.4" width="3" height="90" fill="#ffffff"/><polygon points="525.5,286.0 525.5,240.0 527.0,205.0 529.0,195.0 531.0,188.0 533.0,198.0 535.0,228.0 537.0,205.0 539.0,195.0 541.8,190.5 543.0,200.0 544.0,226.0 546.0,232.0 549.0,232.0 550.0,240.0 550.0,289.0" fill="#ffffff"/><rect x="530.8" y="249" width="2.2" height="25" fill="#0070e0"/><rect x="541" y="253" width="2.6" height="22" fill="#0070e0"/></g>
<g shape-rendering="auto"><text x="12.56" y="41.6" textLength="19.74" lengthAdjust="spacingAndGlyphs" font-size="14.4" font-family="Liberation Sans, sans-serif" fill="#000">On</text><text x="611.8" y="41.6" textLength="19.74" lengthAdjust="spacingAndGlyphs" font-size="14.4" font-family="Liberation Sans, sans-serif" fill="#000">On</text><text x="23.82" y="58.3" textLength="8.48" lengthAdjust="spacingAndGlyphs" font-size="14.4" font-family="Liberation Sans, sans-serif" fill="#000">Y</text><text x="611.8" y="58.3" textLength="8.48" lengthAdjust="spacingAndGlyphs" font-size="14.4" font-family="Liberation Sans, sans-serif" fill="#000">Y</text><text x="11.80" y="75.0" textLength="20.50" lengthAdjust="spacingAndGlyphs" font-size="14.4" font-family="Liberation Sans, sans-serif" fill="#000">Off</text><text x="611.8" y="75.0" textLength="20.50" lengthAdjust="spacingAndGlyphs" font-size="14.4" font-family="Liberation Sans, sans-serif" fill="#000">Off</text><text x="23.92" y="91.7" textLength="8.38" lengthAdjust="spacingAndGlyphs" font-size="14.4" font-family="Liberation Sans, sans-serif" fill="#000">P</text><text x="611.8" y="91.7" textLength="26.68" lengthAdjust="spacingAndGlyphs" font-size="14.4" font-family="Liberation Sans, sans-serif" fill="#000">P **</text><text x="21.37" y="108.4" textLength="10.93" lengthAdjust="spacingAndGlyphs" font-size="14.4" font-family="Liberation Sans, sans-serif" fill="#000">O</text><text x="611.8" y="108.4" textLength="10.93" lengthAdjust="spacingAndGlyphs" font-size="14.4" font-family="Liberation Sans, sans-serif" fill="#000">O</text><text x="3.60" y="125.1" textLength="28.70" lengthAdjust="spacingAndGlyphs" font-size="14.4" font-family="Liberation Sans, sans-serif" fill="#000">** N</text><text x="611.8" y="125.1" textLength="10.39" lengthAdjust="spacingAndGlyphs" font-size="14.4" font-family="Liberation Sans, sans-serif" fill="#000">N</text><text x="20.32" y="141.8" textLength="11.98" lengthAdjust="spacingAndGlyphs" font-size="14.4" font-family="Liberation Sans, sans-serif" fill="#000">M</text><text x="611.8" y="141.8" textLength="11.98" lengthAdjust="spacingAndGlyphs" font-size="14.4" font-family="Liberation Sans, sans-serif" fill="#000">M</text><text x="24.56" y="158.5" textLength="7.74" lengthAdjust="spacingAndGlyphs" font-size="14.4" font-family="Liberation Sans, sans-serif" fill="#000">L</text><text x="611.8" y="158.5" textLength="7.74" lengthAdjust="spacingAndGlyphs" font-size="14.4" font-family="Liberation Sans, sans-serif" fill="#000">L</text><text x="23.19" y="175.2" textLength="9.11" lengthAdjust="spacingAndGlyphs" font-size="14.4" font-family="Liberation Sans, sans-serif" fill="#000">K</text><text x="611.8" y="175.2" textLength="9.11" lengthAdjust="spacingAndGlyphs" font-size="14.4" font-family="Liberation Sans, sans-serif" fill="#000">K</text><text x="28.20" y="191.9" textLength="4.10" lengthAdjust="spacingAndGlyphs" font-size="14.4" font-family="Liberation Sans, sans-serif" fill="#000">J</text><text x="611.8" y="191.9" textLength="4.10" lengthAdjust="spacingAndGlyphs" font-size="14.4" font-family="Liberation Sans, sans-serif" fill="#000">J</text><text x="28.20" y="208.6" textLength="4.10" lengthAdjust="spacingAndGlyphs" font-size="14.4" font-family="Liberation Sans, sans-serif" fill="#000">I</text><text x="611.8" y="208.6" textLength="4.10" lengthAdjust="spacingAndGlyphs" font-size="14.4" font-family="Liberation Sans, sans-serif" fill="#000">I</text><text x="21.86" y="225.3" textLength="10.44" lengthAdjust="spacingAndGlyphs" font-size="14.4" font-family="Liberation Sans, sans-serif" fill="#000">H</text><text x="611.8" y="225.3" textLength="10.44" lengthAdjust="spacingAndGlyphs" font-size="14.4" font-family="Liberation Sans, sans-serif" fill="#000">H</text><text x="21.54" y="242.0" textLength="10.76" lengthAdjust="spacingAndGlyphs" font-size="14.4" font-family="Liberation Sans, sans-serif" fill="#000">G</text><text x="611.8" y="242.0" textLength="10.76" lengthAdjust="spacingAndGlyphs" font-size="14.4" font-family="Liberation Sans, sans-serif" fill="#000">G</text><text x="24.31" y="258.7" textLength="7.99" lengthAdjust="spacingAndGlyphs" font-size="14.4" font-family="Liberation Sans, sans-serif" fill="#000">F</text><text x="611.8" y="258.7" textLength="7.99" lengthAdjust="spacingAndGlyphs" font-size="14.4" font-family="Liberation Sans, sans-serif" fill="#000">F</text><text x="23.52" y="275.4" textLength="8.78" lengthAdjust="spacingAndGlyphs" font-size="14.4" font-family="Liberation Sans, sans-serif" fill="#000">E</text><text x="611.8" y="275.4" textLength="8.78" lengthAdjust="spacingAndGlyphs" font-size="14.4" font-family="Liberation Sans, sans-serif" fill="#000">E</text><text x="21.60" y="292.1" textLength="10.70" lengthAdjust="spacingAndGlyphs" font-size="14.4" font-family="Liberation Sans, sans-serif" fill="#000">D</text><text x="611.8" y="292.1" textLength="10.70" lengthAdjust="spacingAndGlyphs" font-size="14.4" font-family="Liberation Sans, sans-serif" fill="#000">D</text><text x="22.60" y="308.8" textLength="9.70" lengthAdjust="spacingAndGlyphs" font-size="14.4" font-family="Liberation Sans, sans-serif" fill="#000">C</text><text x="611.8" y="308.8" textLength="9.70" lengthAdjust="spacingAndGlyphs" font-size="14.4" font-family="Liberation Sans, sans-serif" fill="#000">C</text><text x="22.77" y="325.5" textLength="9.53" lengthAdjust="spacingAndGlyphs" font-size="14.4" font-family="Liberation Sans, sans-serif" fill="#000">B</text><text x="611.8" y="325.5" textLength="9.53" lengthAdjust="spacingAndGlyphs" font-size="14.4" font-family="Liberation Sans, sans-serif" fill="#000">B</text><text x="22.80" y="342.2" textLength="9.50" lengthAdjust="spacingAndGlyphs" font-size="14.4" font-family="Liberation Sans, sans-serif" fill="#000">A</text><text x="611.8" y="342.2" textLength="9.50" lengthAdjust="spacingAndGlyphs" font-size="14.4" font-family="Liberation Sans, sans-serif" fill="#000">A</text><text x="11.80" y="358.9" textLength="20.50" lengthAdjust="spacingAndGlyphs" font-size="14.4" font-family="Liberation Sans, sans-serif" fill="#000">Off</text><text x="611.8" y="358.9" textLength="20.50" lengthAdjust="spacingAndGlyphs" font-size="14.4" font-family="Liberation Sans, sans-serif" fill="#000">Off</text><text x="22.78" y="375.6" textLength="9.52" lengthAdjust="spacingAndGlyphs" font-size="14.4" font-family="Liberation Sans, sans-serif" fill="#000">X</text><text x="611.8" y="375.6" textLength="9.52" lengthAdjust="spacingAndGlyphs" font-size="14.4" font-family="Liberation Sans, sans-serif" fill="#000">X</text><text x="12.56" y="392.3" textLength="19.74" lengthAdjust="spacingAndGlyphs" font-size="14.4" font-family="Liberation Sans, sans-serif" fill="#000">On</text><text x="611.8" y="392.3" textLength="19.74" lengthAdjust="spacingAndGlyphs" font-size="14.4" font-family="Liberation Sans, sans-serif" fill="#000">On</text><rect x="69" y="43.15" width="5.5" height="1.3" fill="#fff"/><text x="79" y="49.0" textLength="17.97" lengthAdjust="spacingAndGlyphs" font-size="14.6" font-family="Liberation Sans, sans-serif" fill="#fff">25</text><rect x="349.5" y="43.15" width="5.5" height="1.3" fill="#fff"/><text x="359.5" y="49.0" textLength="17.97" lengthAdjust="spacingAndGlyphs" font-size="14.6" font-family="Liberation Sans, sans-serif" fill="#fff">25</text><text x="300.33" y="49.0" textLength="17.97" lengthAdjust="spacingAndGlyphs" font-size="14.6" font-family="Liberation Sans, sans-serif" fill="#fff">25</text><rect x="69" y="91.15" width="5.5" height="1.3" fill="#fff"/><text x="79" y="97.0" textLength="17.97" lengthAdjust="spacingAndGlyphs" font-size="14.6" font-family="Liberation Sans, sans-serif" fill="#fff">20</text><rect x="349.5" y="91.15" width="5.5" height="1.3" fill="#fff"/><text x="359.5" y="97.0" textLength="17.97" lengthAdjust="spacingAndGlyphs" font-size="14.6" font-family="Liberation Sans, sans-serif" fill="#fff">20</text><text x="300.33" y="97.0" textLength="17.97" lengthAdjust="spacingAndGlyphs" font-size="14.6" font-family="Liberation Sans, sans-serif" fill="#fff">20</text><rect x="69" y="139.15" width="5.5" height="1.3" fill="#fff"/><text x="79" y="145.1" textLength="17.97" lengthAdjust="spacingAndGlyphs" font-size="14.6" font-family="Liberation Sans, sans-serif" fill="#fff">15</text><rect x="349.5" y="139.15" width="5.5" height="1.3" fill="#fff"/><text x="359.5" y="145.1" textLength="17.97" lengthAdjust="spacingAndGlyphs" font-size="14.6" font-family="Liberation Sans, sans-serif" fill="#fff">15</text><text x="300.33" y="145.1" textLength="17.97" lengthAdjust="spacingAndGlyphs" font-size="14.6" font-family="Liberation Sans, sans-serif" fill="#fff">15</text><rect x="69" y="187.15" width="5.5" height="1.3" fill="#fff"/><text x="79" y="193.1" textLength="17.97" lengthAdjust="spacingAndGlyphs" font-size="14.6" font-family="Liberation Sans, sans-serif" fill="#fff">10</text><rect x="349.5" y="187.15" width="5.5" height="1.3" fill="#fff"/><text x="359.5" y="193.1" textLength="17.97" lengthAdjust="spacingAndGlyphs" font-size="14.6" font-family="Liberation Sans, sans-serif" fill="#fff">10</text><text x="300.33" y="193.1" textLength="17.97" lengthAdjust="spacingAndGlyphs" font-size="14.6" font-family="Liberation Sans, sans-serif" fill="#fff">10</text><rect x="69" y="235.15" width="5.5" height="1.3" fill="#fff"/><text x="79" y="241.1" textLength="9.14" lengthAdjust="spacingAndGlyphs" font-size="14.6" font-family="Liberation Sans, sans-serif" fill="#fff">5</text><rect x="349.5" y="235.15" width="5.5" height="1.3" fill="#fff"/><text x="359.5" y="241.1" textLength="9.14" lengthAdjust="spacingAndGlyphs" font-size="14.6" font-family="Liberation Sans, sans-serif" fill="#fff">5</text><text x="309.16" y="241.1" textLength="9.14" lengthAdjust="spacingAndGlyphs" font-size="14.6" font-family="Liberation Sans, sans-serif" fill="#fff">5</text><rect x="69" y="283.15" width="5.5" height="1.3" fill="#fff"/><text x="79" y="289.1" textLength="9.14" lengthAdjust="spacingAndGlyphs" font-size="14.6" font-family="Liberation Sans, sans-serif" fill="#fff">0</text><rect x="349.5" y="283.15" width="5.5" height="1.3" fill="#fff"/><text x="359.5" y="289.1" textLength="9.14" lengthAdjust="spacingAndGlyphs" font-size="14.6" font-family="Liberation Sans, sans-serif" fill="#fff">0</text><text x="309.16" y="289.1" textLength="9.14" lengthAdjust="spacingAndGlyphs" font-size="14.6" font-family="Liberation Sans, sans-serif" fill="#fff">0</text><rect x="48.85" y="408" width="1.1" height="5.7" fill="#000"/><text x="46.00" y="426.1" textLength="6.8" lengthAdjust="spacingAndGlyphs" font-size="11.5" font-family="Liberation Sans, sans-serif" fill="#000">0</text><rect x="89.52" y="408" width="1.1" height="5.7" fill="#000"/><text x="84.17" y="426.1" textLength="11.8" lengthAdjust="spacingAndGlyphs" font-size="11.5" font-family="Liberation Sans, sans-serif" fill="#000">50</text><rect x="130.18" y="408" width="1.1" height="5.7" fill="#000"/><text x="122.13" y="426.1" textLength="17.2" lengthAdjust="spacingAndGlyphs" font-size="11.5" font-family="Liberation Sans, sans-serif" fill="#000">100</text><rect x="170.85" y="408" width="1.1" height="5.7" fill="#000"/><text x="162.80" y="426.1" textLength="17.2" lengthAdjust="spacingAndGlyphs" font-size="11.5" font-family="Liberation Sans, sans-serif" fill="#000">150</text><rect x="211.52" y="408" width="1.1" height="5.7" fill="#000"/><text x="203.47" y="426.1" textLength="17.2" lengthAdjust="spacingAndGlyphs" font-size="11.5" font-family="Liberation Sans, sans-serif" fill="#000">200</text><rect x="252.18" y="408" width="1.1" height="5.7" fill="#000"/><text x="244.13" y="426.1" textLength="17.2" lengthAdjust="spacingAndGlyphs" font-size="11.5" font-family="Liberation Sans, sans-serif" fill="#000">250</text><rect x="292.85" y="408" width="1.1" height="5.7" fill="#000"/><text x="284.80" y="426.1" textLength="17.2" lengthAdjust="spacingAndGlyphs" font-size="11.5" font-family="Liberation Sans, sans-serif" fill="#000">300</text><rect x="328.85" y="408" width="1.1" height="5.7" fill="#000"/><text x="326.00" y="426.1" textLength="6.8" lengthAdjust="spacingAndGlyphs" font-size="11.5" font-family="Liberation Sans, sans-serif" fill="#000">0</text><rect x="369.52" y="408" width="1.1" height="5.7" fill="#000"/><text x="364.17" y="426.1" textLength="11.8" lengthAdjust="spacingAndGlyphs" font-size="11.5" font-family="Liberation Sans, sans-serif" fill="#000">50</text><rect x="410.18" y="408" width="1.1" height="5.7" fill="#000"/><text x="402.13" y="426.1" textLength="17.2" lengthAdjust="spacingAndGlyphs" font-size="11.5" font-family="Liberation Sans, sans-serif" fill="#000">100</text><rect x="450.85" y="408" width="1.1" height="5.7" fill="#000"/><text x="442.80" y="426.1" textLength="17.2" lengthAdjust="spacingAndGlyphs" font-size="11.5" font-family="Liberation Sans, sans-serif" fill="#000">150</text><rect x="491.52" y="408" width="1.1" height="5.7" fill="#000"/><text x="483.47" y="426.1" textLength="17.2" lengthAdjust="spacingAndGlyphs" font-size="11.5" font-family="Liberation Sans, sans-serif" fill="#000">200</text><rect x="532.18" y="408" width="1.1" height="5.7" fill="#000"/><text x="524.13" y="426.1" textLength="17.2" lengthAdjust="spacingAndGlyphs" font-size="11.5" font-family="Liberation Sans, sans-serif" fill="#000">250</text><rect x="572.85" y="408" width="1.1" height="5.7" fill="#000"/><text x="564.80" y="426.1" textLength="17.2" lengthAdjust="spacingAndGlyphs" font-size="11.5" font-family="Liberation Sans, sans-serif" fill="#000">300</text><text x="98.2" y="16" textLength="167.5" lengthAdjust="spacingAndGlyphs" font-size="18.6" font-family="Liberation Sans, sans-serif" fill="#000">32.4 (Tile084=84) X</text><text x="379" y="16" textLength="165.5" lengthAdjust="spacingAndGlyphs" font-size="18.6" font-family="Liberation Sans, sans-serif" fill="#000">32.4 (Tile084=84) Y</text></g>
</svg>
<div style="position:absolute;left:315px;top:20px;width:13px;height:400px;background:#fff"></div>
</body></html>
